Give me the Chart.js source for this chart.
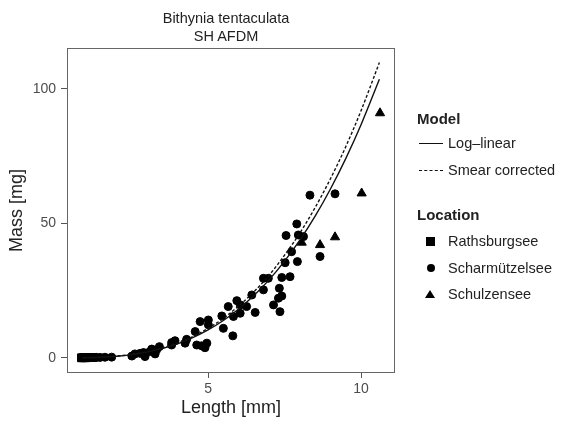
<!DOCTYPE html>
<html>
<head>
<meta charset="utf-8">
<script src="https://cdn.jsdelivr.net/npm/chart.js@4.4.1/dist/chart.umd.min.js"></script>
<style>
  body { margin: 0; background: #fff; font-family: "Liberation Sans", Arial, sans-serif; }
  #wrap { position: relative; width: 563px; height: 423px; }
  #title { position: absolute; left: 126px; width: 200px; top: 9px; text-align: center; font-size: 14.5px; line-height: 18px; color: #222; }
  .lg { position: absolute; left: 417px; color: #222; font-size: 14.5px; white-space: nowrap; }
  .lg b { font-size: 15px; }
  .key { position: absolute; }
</style>
</head>
<body>
<div id="wrap">
  <canvas id="massChart" width="563" height="423"></canvas>
  <div id="title">Bithynia tentaculata<br>SH AFDM</div>

  <div class="lg" style="top:110px"><b>Model</b></div>
  <div class="key" style="left:419px;top:143px;width:24px;border-top:1.5px solid #111"></div>
  <div class="lg" style="left:448px;top:135px">Log–linear</div>
  <div class="key" style="left:419px;top:170px;width:24px;border-top:1.5px dashed #111"></div>
  <div class="lg" style="left:448px;top:162px">Smear corrected</div>

  <div class="lg" style="top:206px"><b>Location</b></div>
  <div class="key" style="left:426px;top:237px;width:9px;height:9px;background:#000"></div>
  <div class="lg" style="left:448px;top:233px">Rathsburgsee</div>
  <div class="key" style="left:427px;top:264px;width:8px;height:8px;border-radius:50%;background:#000"></div>
  <div class="lg" style="left:448px;top:260px">Scharmützelsee</div>
  <div class="key" style="left:425px;top:290px;width:0;height:0;border-left:5px solid transparent;border-right:5px solid transparent;border-bottom:8px solid #000"></div>
  <div class="lg" style="left:448px;top:286px">Schulzensee</div>
</div>
<script>
//Data//
const xTicks = [5, 10];
const yTicks = [0, 50, 100];

const rathsLength = [0.86, 0.9, 0.94, 0.98, 1.02, 1.06, 1.1, 1.15, 1.2, 1.25];
const rathsMass = [0.05, 0.08, 0.1, 0.05, 0.12, 0.1, 0.15, 0.12, 0.18, 0.2];

const scharLength = [1.35, 1.47, 1.63, 1.85, 2.51, 2.61, 2.78, 2.89, 2.94, 3.10, 3.16, 3.27, 3.32, 3.41,
  3.81, 3.81, 3.92, 4.25, 4.30, 4.58, 4.63, 4.74, 4.79, 4.90, 4.96, 5.01, 5.01, 5.45, 5.50, 5.66,
  5.81, 5.83, 5.94, 6.05, 6.05, 6.26, 6.43, 6.54, 6.81, 6.81, 6.97, 7.14, 7.30, 7.33, 7.35, 7.41,
  7.41, 7.52, 7.55, 7.68, 7.73, 7.90, 7.92, 7.95, 8.12, 8.33, 8.66, 9.15];
const scharMass = [0.2, 0.2, 0.25, 0.3, 0.7, 1.5, 1.7, 2.0, 0.5, 2.4, 3.3, 1.5, 3.0, 4.2,
  4.8, 5.7, 6.4, 5.5, 6.9, 9.8, 4.8, 13.5, 4.5, 3.8, 5.5, 14.1, 12.3, 15.6, 11.0, 19.1,
  8.2, 15.4, 21.3, 19.7, 16.6, 19.1, 23.4, 16.9, 25.3, 29.6, 29.6, 19.7, 22.2, 25.9, 17.2, 23.0,
  29.9, 35.4, 45.5, 30.2, 39.5, 49.8, 35.8, 45.7, 45.1, 60.5, 37.7, 61.0];

const schulLength = [8.06, 8.66, 9.15, 10.02, 10.62];
const schulMass = [42.9, 42.0, 44.9, 61.2, 91.0];

// model curves
const modelLength = [0.9, 1.5, 2, 2.5, 3, 3.5, 4, 4.5, 5, 5.5, 6, 6.5, 7, 7.5, 8, 8.5, 9, 9.5, 10, 10.6];
const logLinearMass = [0.055, 0.26, 0.63, 1.25, 2.18, 3.49, 5.25, 7.53, 10.4, 13.9, 18.2, 23.2, 29.1, 36.0, 43.8, 52.7, 62.8, 74.1, 86.7, 103.6];
const smearMass = [0.058, 0.28, 0.67, 1.33, 2.31, 3.70, 5.57, 7.98, 11.0, 14.7, 19.3, 24.6, 30.8, 38.2, 46.4, 55.9, 66.6, 78.5, 91.9, 109.8];
//Akhir Data//

function toPoints(xs, ys) {
  return xs.map((x, i) => ({ x: x, y: ys[i] }));
}

const panelBorder = {
  id: "panelBorder",
  afterDraw(chart) {
    const a = chart.chartArea;
    const ctx = chart.ctx;
    ctx.save();
    ctx.strokeStyle = "#666";
    ctx.lineWidth = 1;
    ctx.strokeRect(a.left + 0.5, a.top + 0.5, a.right - a.left - 1, a.bottom - a.top - 1);
    ctx.restore();
  },
};

const data = {
  datasets: [
    {
      label: "Log-linear",
      data: toPoints(modelLength, logLinearMass),
      showLine: true,
      pointRadius: 0,
      borderColor: "#111",
      borderWidth: 1.4,
      cubicInterpolationMode: "monotone",
    },
    {
      label: "Smear corrected",
      data: toPoints(modelLength, smearMass),
      showLine: true,
      pointRadius: 0,
      borderColor: "#111",
      borderWidth: 1.4,
      borderDash: [3, 2],
      cubicInterpolationMode: "monotone",
    },
    {
      label: "Rathsburgsee",
      data: toPoints(rathsLength, rathsMass),
      pointStyle: "rect",
      pointRadius: 5.5,
      backgroundColor: "#000",
      borderColor: "#000",
    },
    {
      label: "Scharmützelsee",
      data: toPoints(scharLength, scharMass),
      pointStyle: "circle",
      pointRadius: 4,
      backgroundColor: "#000",
      borderColor: "#000",
    },
    {
      label: "Schulzensee",
      data: toPoints(schulLength, schulMass),
      pointStyle: "triangle",
      pointRadius: 5.3,
      backgroundColor: "#000",
      borderColor: "#000",
    },
  ],
};

const config = {
  type: "scatter",
  data: data,
  plugins: [panelBorder],
  options: {
    responsive: false,
    devicePixelRatio: 1,
    animation: false,
    layout: { padding: { top: 48, right: 168, left: 0, bottom: 0 } },
    plugins: {
      legend: { display: false },
      tooltip: { enabled: false },
    },
    scales: {
      x: {
        type: "linear",
        min: 0.39,
        max: 11.11,
        afterBuildTicks: (s) => { s.ticks = xTicks.map((v) => ({ value: v })); },
        afterFit: (s) => { s.height = 50; },
        border: { display: false },
        grid: { drawOnChartArea: false, drawTicks: true, tickLength: 5, color: "#555" },
        ticks: { color: "#4d4d4d", font: { size: 14, family: "Liberation Sans" }, padding: 3, maxRotation: 0 },
        title: { display: true, text: "Length [mm]", color: "#222", font: { size: 18, family: "Liberation Sans" }, padding: { top: 0, bottom: 4 } },
      },
      y: {
        type: "linear",
        min: -5.6,
        max: 115.2,
        afterBuildTicks: (s) => { s.ticks = yTicks.map((v) => ({ value: v })); },
        afterFit: (s) => { s.width = 67; },
        border: { display: false },
        grid: { drawOnChartArea: false, drawTicks: true, tickLength: 6, color: "#555" },
        ticks: { color: "#4d4d4d", font: { size: 14, family: "Liberation Sans" }, padding: 5 },
        title: { display: true, text: "Mass [mg]", color: "#222", font: { size: 18, family: "Liberation Sans" }, padding: { top: 6, bottom: 0 } },
      },
    },
  },
};

const massChart = new Chart(document.getElementById("massChart").getContext("2d"), config);
</script>
</body>
</html>
